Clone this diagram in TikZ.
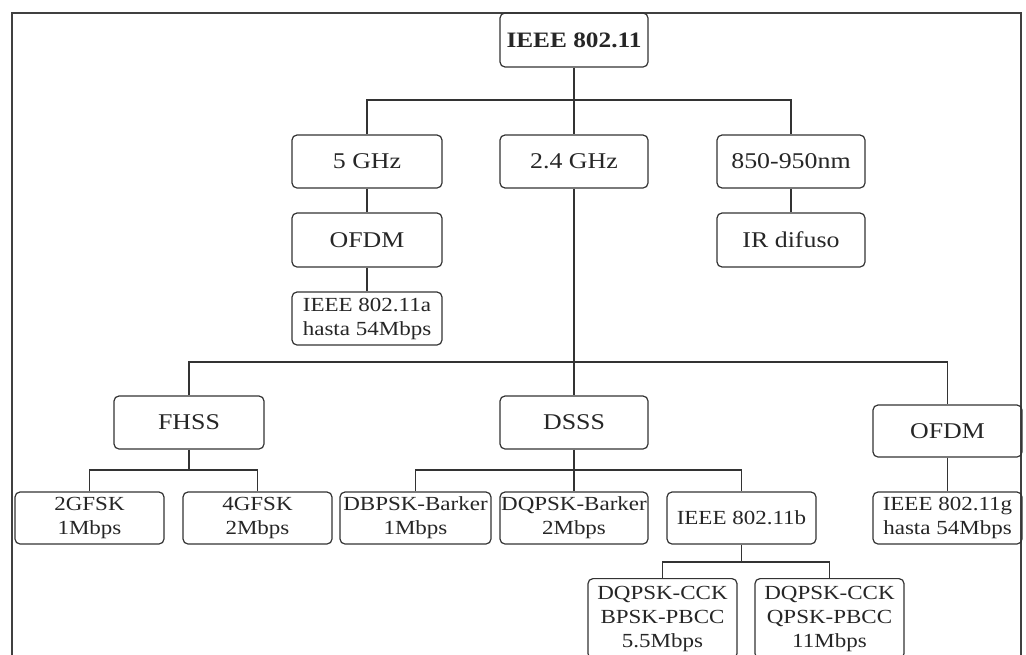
\documentclass[tikz,border=0pt]{standalone}
\usepackage{fontspec}
\setmainfont{Liberation Serif}[FakeStretch=1.15]
\begin{document}
\begin{tikzpicture}[x=1pt,y=-1pt,
  line width=1.2pt, draw=black!80,
  box/.style={draw=black!80, rounded corners=5pt, inner sep=0pt, align=center, text=black!85,
    minimum height=53pt},
  big/.style={box, font=\fontsize{22.5}{26}\selectfont},
  small/.style={box, font=\fontsize{20}{24}\selectfont, minimum height=52pt},
  conn/.style={draw=black!80, line width=1.2pt}]
\clip (0,0) rectangle (1026,654);
\useasboundingbox (0,0) rectangle (1026,654);
% outer frame
\draw[black!75, line width=1.3pt] (12,670) |- (1021,13) -- (1021,670);
% level 0
\node[big, font=\bfseries\fontsize{22}{26}\selectfont, minimum width=148pt, minimum height=54pt] (top) at (574,40) {IEEE 802.11};
% level 1
\node[big, minimum width=150pt] (g5) at (367,161.5) {5 GHz};
\node[big, minimum width=148pt] (g24) at (574,161.5) {2.4 GHz};
\node[big, minimum width=148pt] (nm) at (791,161.5) {850-950nm};
\node[big, minimum width=150pt, minimum height=54pt] (ofdmA) at (367,240) {OFDM};
\node[big, minimum width=148pt, minimum height=54pt] (ir) at (791,240) {IR difuso};
\node[small, minimum width=150pt, minimum height=53pt] (a11) at (367,318.5) {IEEE 802.11a\\hasta 54Mbps};
% level 2
\node[big, minimum width=150pt] (fhss) at (189,422.5) {FHSS};
\node[big, minimum width=148pt] (dsss) at (574,422.5) {DSSS};
\node[big, minimum width=149pt, minimum height=52pt] (ofdmG) at (947.5,431) {OFDM};
% level 3
\node[small, minimum width=149pt] (gfsk2) at (89.5,518) {2GFSK\\1Mbps};
\node[small, minimum width=149pt] (gfsk4) at (257.5,518) {4GFSK\\2Mbps};
\node[small, minimum width=151pt] (dbpsk) at (415.5,518) {DBPSK-Barker\\1Mbps};
\node[small, minimum width=148pt] (dqpsk) at (574,518) {DQPSK-Barker\\2Mbps};
\node[small, minimum width=149pt] (b11) at (741.5,518) {IEEE 802.11b};
\node[small, minimum width=149pt] (g11) at (947.5,518) {IEEE 802.11g\\hasta 54Mbps};
% level 4
\node[small, minimum width=149pt, minimum height=80pt, anchor=north] (cck1) at (662.5,578) {DQPSK-CCK\\BPSK-PBCC\\5.5Mbps};
\node[small, minimum width=149pt, minimum height=80pt, anchor=north] (cck2) at (829.5,578) {DQPSK-CCK\\QPSK-PBCC\\11Mbps};
% junctions
\coordinate (j1) at (574,100);
\coordinate (j2) at (574,362);
\coordinate (j3) at (189,470);
\coordinate (j4) at (574,470);
\coordinate (j5) at (741.5,562);
% connectors
\draw[conn] (top.south) -- (j1);
\draw[conn] (g5.north) |- (j1) -| (nm.north);
\draw[conn] (j1) -- (g24.north);
\draw[conn] (g5.south) -- (ofdmA.north);
\draw[conn] (ofdmA.south) -- (a11.north);
\draw[conn] (nm.south) -- (ir.north);
\draw[conn] (g24.south) -- (j2);
\draw[conn] (fhss.north) |- (j2) -| (ofdmG.north);
\draw[conn] (j2) -- (dsss.north);
\draw[conn] (ofdmG.south) -- (g11.north);
\draw[conn] (fhss.south) -- (j3);
\draw[conn] (gfsk2.north) |- (j3) -| (gfsk4.north);
\draw[conn] (dsss.south) -- (j4);
\draw[conn] (dbpsk.north) |- (j4) -| (b11.north);
\draw[conn] (j4) -- (dqpsk.north);
\draw[conn] (b11.south) -- (j5);
\draw[conn] (cck1.north) |- (j5) -| (cck2.north);
\end{tikzpicture}
\end{document}
